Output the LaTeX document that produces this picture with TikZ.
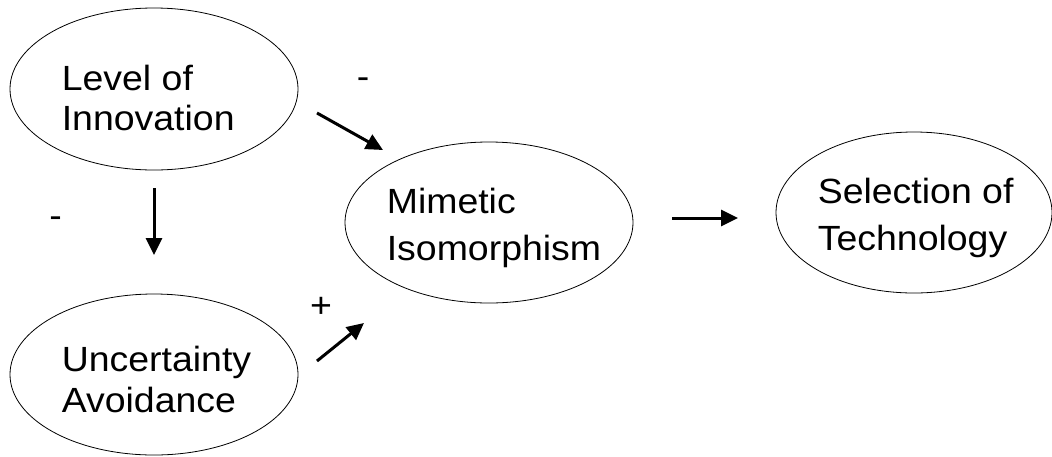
\documentclass[tikz,border=0pt]{standalone}
\usepackage{fontspec}
\setmainfont{Liberation Sans}[FakeStretch=1.07]
\usetikzlibrary{arrows.meta, shapes.geometric}

\begin{document}
\begin{tikzpicture}[
  x=1pt, y=-1pt,
  oval/.style={draw, ellipse, line width=0.8pt, inner sep=0pt},
  txt/.style={anchor=west, align=left, inner sep=0pt, font=\fontsize{35}{39.5}\selectfont},
  ltxt/.style={txt, font=\fontsize{35}{41}\selectfont},
  wtxt/.style={txt, font=\fontsize{35}{46.5}\selectfont},
  sign/.style={anchor=base, inner sep=0pt, font=\fontsize{35}{40}\selectfont},
  flow/.style={-{Triangle[length=17pt, width=16pt]}, line width=3pt}
]
\useasboundingbox (0,0) rectangle (1052,456);

% the four constructs
\node[oval, minimum width=288pt, minimum height=162pt] (lvl) at (154,89) {};
\node[oval, minimum width=288pt, minimum height=161pt] (unc) at (154,374.5) {};
\node[oval, minimum width=288pt, minimum height=161pt] (mim) at (489,222.5) {};
\node[oval, minimum width=276pt, minimum height=161pt] (sel) at (914,212.5) {};

\node[txt] (lvltxt) at ([shift={(52,9)}]lvl.west) {Level of\\Innovation};
\node[ltxt] (unctxt) at ([shift={(52,5)}]unc.west) {Uncertainty\\Avoidance};
\node[wtxt] (mimtxt) at ([shift={(42,5.5)}]mim.west) {Mimetic\\Isomorphism};
\node[wtxt] (seltxt) at ([shift={(42,5.5)}]sel.west) {Selection of\\Technology};

% arrow ends
\coordinate (a1s) at (317,113);
\coordinate (a1e) at (383,150);
\coordinate (a2s) at (154,188);
\coordinate (a2e) at (154,255);
\coordinate (a3s) at (317,361);
\coordinate (a3e) at (364,323);
\coordinate (a4s) at (672,218);
\coordinate (a4e) at (738,218);

\draw[flow] (a1s) -- (a1e);
\draw[flow] (a2s) -- (a2e);
\draw[flow] (a3s) -- (a3e);
\draw[flow] (a4s) -- (a4e);

% signs
\node[sign] (s1) at (363,88) {-};
\node[sign] (s2) at (55.5,227) {-};
\node[sign] (s3) at (321,317) {+};
\end{tikzpicture}
\end{document}
